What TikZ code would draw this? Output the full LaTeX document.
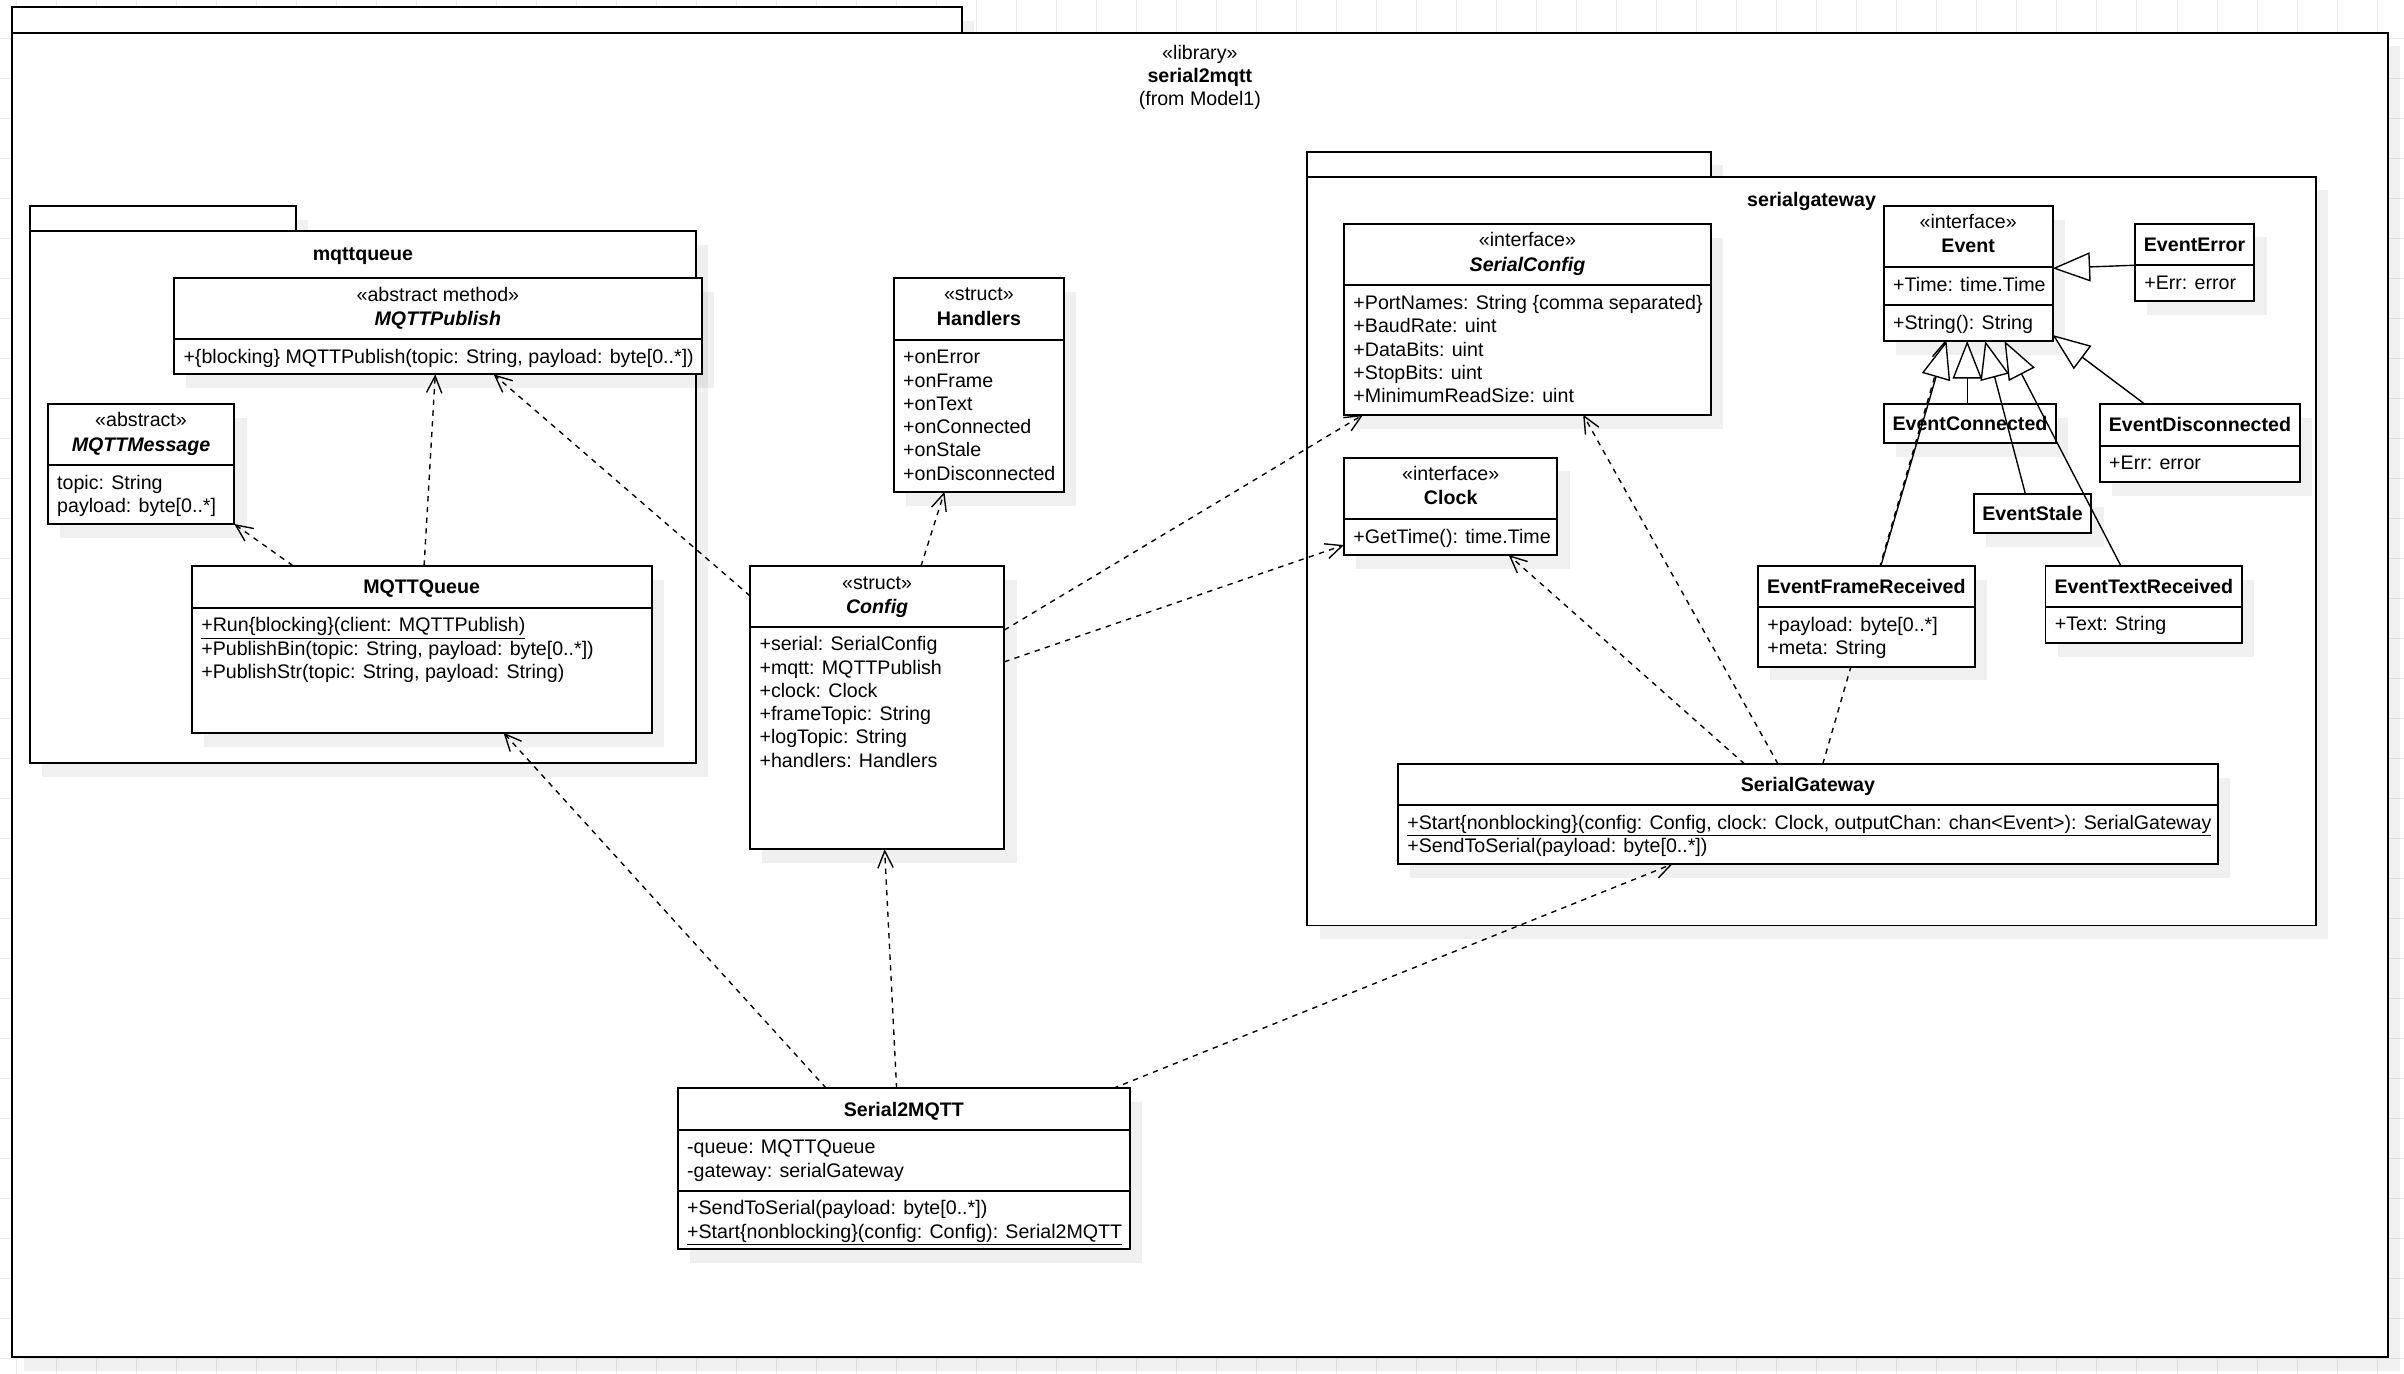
\documentclass[tikz,border=0pt]{standalone}
\usepackage{fontspec}
\setmainfont{Liberation Sans}
\usetikzlibrary{arrows.meta}
\usetikzlibrary{shadows}
\newcommand{\umlfont}{\fontsize{12.8}{15.2}\selectfont}

\begin{document}
\begin{tikzpicture}[x=1pt, y=-1pt, font=\umlfont,
  box/.style={draw, fill=white, line width=1.2pt, anchor=north west, inner sep=0pt, outer sep=0pt,
    drop shadow={shadow xshift=8pt, shadow yshift=-9pt, fill=black, opacity=.06}},
  sep/.style={line width=1.2pt},
  lbl/.style={anchor=base, inner sep=0pt},
  nm/.style={lbl, font=\umlfont\bfseries},
  ab/.style={lbl, font=\umlfont\bfseries\itshape},
  attr/.style={anchor=base west, inner sep=0pt},
  dep/.style={line width=.9pt, dash pattern=on 3.5pt off 3.5pt, -{Straight Barb[length=11pt, width=10pt]}},
  gen/.style={line width=.9pt, -{Triangle[length=24.5pt, width=19pt, fill=white]}},
  gridline/.style={black!8, line width=.6pt}]

\useasboundingbox (0,0) rectangle (1568,896);
\foreach \x in {10.5,36.6,...,1568} \draw[gridline] (\x,0) -- (\x,896);
\foreach \y in {24.8,50.9,...,896} \draw[gridline] (0,\y) -- (1568,\y);

% packages
\node[box, minimum width=619.8pt, minimum height=16.5pt] (lib-tab) at (7.6,4.8) {};
\node[box, minimum width=1550pt, minimum height=863.6pt] (lib) at (7.6,21.3) {};
\node[lbl] (lib-st) at (782.6,38.6) {«library»};
\node[nm] (lib-nm) at (782.6,53.8) {serial2mqtt};
\node[lbl] (lib-from) at (782.6,69) {(from Model1)};

\node[box, minimum width=173.6pt, minimum height=16.5pt] (mq-tab) at (19.4,134.2) {};
\node[box, minimum width=434.6pt, minimum height=347.2pt] (mq) at (19.4,150.7) {};
\node[nm] (mq-nm) at (236.7,169.8) {mqttqueue};

\node[box, minimum width=263.3pt, minimum height=16.3pt] (sg-tab) at (852.7,98.9) {};
\node[box, minimum width=657.9pt, minimum height=488.5pt] (sg) at (852.7,115.2) {};
\node[nm] (sg-nm) at (1181.6,135) {serialgateway};

% mqttqueue
\node[box, minimum width=344.2pt, minimum height=62.7pt] (pub) at (113.5,181.5) {};
\draw[sep] (113.5,221.1) -- (457.7,221.1);
\node[lbl] (pub-st) at (285.6,196.5) {«abstract method»};
\node[ab] (pub-nm) at (285.6,212.2) {MQTTPublish};
\node[attr] (pub-1) at (119.5,236.9) {+\{blocking\} MQTTPublish(topic: String, payload: byte[0..*])};

\node[box, minimum width=121.7pt, minimum height=78.3pt] (msg) at (31.1,263.5) {};
\draw[sep] (31.1,303.5) -- (152.8,303.5);
\node[lbl] (msg-st) at (92,278.5) {«abstract»};
\node[ab] (msg-nm) at (92,294.2) {MQTTMessage};
\foreach \s [count=\i] in {{topic: String},{payload: byte[0..*]}}
  \node[attr] (msg-\i) at (37.1,{304.1+15.17*\i}) {\s};

\node[box, minimum width=299.9pt, minimum height=108.9pt] (mqq) at (125.1,369) {};
\draw[sep] (125.1,396.3) -- (425,396.3);
\node[nm] (mqq-nm) at (275,387.3) {MQTTQueue};
\foreach \s [count=\i] in {{\underline{+Run\{blocking\}(client: MQTTPublish)}},{+PublishBin(topic: String, payload: byte[0..*])},{+PublishStr(topic: String, payload: String)}}
  \node[attr] (mqq-\i) at (131.1,{396.9+15.17*\i}) {\s};

% structs
\node[box, minimum width=111.1pt, minimum height=139.5pt] (hnd) at (582.9,181.3) {};
\draw[sep] (582.9,221.5) -- (694,221.5);
\node[lbl] (hnd-st) at (638.5,196.3) {«struct»};
\node[nm] (hnd-nm) at (638.5,212) {Handlers};
\foreach \s [count=\i] in {+onError,+onFrame,+onText,+onConnected,+onStale,+onDisconnected}
  \node[attr] (hnd-\i) at (588.9,{222.1+15.17*\i}) {\s};

\node[box, minimum width=165.8pt, minimum height=184.7pt] (cfg) at (489.2,369.3) {};
\draw[sep] (489.2,408.7) -- (655,408.7);
\node[lbl] (cfg-st) at (572.1,384.3) {«struct»};
\node[ab] (cfg-nm) at (572.1,400) {Config};
\foreach \s [count=\i] in {{+serial: SerialConfig},{+mqtt: MQTTPublish},{+clock: Clock},{+frameTopic: String},{+logTopic: String},{+handlers: Handlers}}
  \node[attr] (cfg-\i) at (495.2,{409.3+15.17*\i}) {\s};

\node[box, minimum width=295pt, minimum height=104.9pt] (s2m) at (442,709.9) {};
\draw[sep] (442,736.8) -- (737,736.8);
\draw[sep] (442,776.6) -- (737,776.6);
\node[nm] (s2m-nm) at (589.5,728) {Serial2MQTT};
\foreach \s [count=\i] in {{-queue: MQTTQueue},{-gateway: serialGateway}}
  \node[attr] (s2m-a\i) at (448,{737.4+15.17*\i}) {\s};
\foreach \s [count=\i] in {{+SendToSerial(payload: byte[0..*])},{\underline{+Start\{nonblocking\}(config: Config): Serial2MQTT}}}
  \node[attr] (s2m-m\i) at (448,{777.2+15.17*\i}) {\s};

% serialgateway
\node[box, minimum width=239.4pt, minimum height=124.4pt] (scfg) at (876.6,146.1) {};
\draw[sep] (876.6,186.1) -- (1116,186.1);
\node[lbl] (scfg-st) at (996.3,161.1) {«interface»};
\node[ab] (scfg-nm) at (996.3,176.8) {SerialConfig};
\foreach \s [count=\i] in {{+PortNames: String \{comma separated\}},{+BaudRate: uint},{+DataBits: uint},{+StopBits: uint},{+MinimumReadSize: uint}}
  \node[attr] (scfg-\i) at (882.6,{186.7+15.17*\i}) {\s};

\node[box, minimum width=139.1pt, minimum height=63.5pt] (clk) at (876.6,298.5) {};
\draw[sep] (876.6,338.5) -- (1015.7,338.5);
\node[lbl] (clk-st) at (946.2,313.5) {«interface»};
\node[nm] (clk-nm) at (946.2,329.2) {Clock};
\node[attr] (clk-1) at (882.6,354.3) {+GetTime(): time.Time};

\node[box, minimum width=110.2pt, minimum height=88.2pt] (evt) at (1228.6,134.2) {};
\draw[sep] (1228.6,174.4) -- (1338.8,174.4);
\draw[sep] (1228.6,199.1) -- (1338.8,199.1);
\node[lbl] (evt-st) at (1283.7,149.2) {«interface»};
\node[nm] (evt-nm) at (1283.7,164.9) {Event};
\node[attr] (evt-1) at (1234.6,190.2) {+Time: time.Time};
\node[attr] (evt-2) at (1234.6,214.9) {+String(): String};

\node[box, minimum width=78pt, minimum height=50.4pt] (evr) at (1392.4,145.9) {};
\draw[sep] (1392.4,173) -- (1470.4,173);
\node[nm] (evr-nm) at (1431.4,164.1) {EventError};
\node[attr] (evr-1) at (1398.4,188.8) {+Err: error};

\node[box, minimum width=112.5pt, minimum height=25.7pt] (evc) at (1228.6,263.5) {};
\node[nm] (evc-nm) at (1284.9,281) {EventConnected};

\node[box, minimum width=130.7pt, minimum height=50.7pt] (evd) at (1369.5,263.5) {};
\draw[sep] (1369.5,290.7) -- (1500.2,290.7);
\node[nm] (evd-nm) at (1434.9,281.7) {EventDisconnected};
\node[attr] (evd-1) at (1375.5,306.5) {+Err: error};

\node[box, minimum width=76.6pt, minimum height=25.9pt] (evs) at (1287.4,322) {};
\node[nm] (evs-nm) at (1325.7,339.6) {EventStale};

\node[box, minimum width=128.3pt, minimum height=50.4pt] (ext) at (1334.1,369.2) {};
\draw[sep] (1334.1,395.7) -- (1462.4,395.7);
\node[nm] (ext-nm) at (1398.3,387) {EventTextReceived};
\node[attr] (ext-1) at (1340.1,411.5) {+Text: String};

\node[box, minimum width=534.9pt, minimum height=65.2pt] (sgw) at (911.7,498.3) {};
\draw[sep] (911.7,525) -- (1446.6,525);
\node[nm] (sgw-nm) at (1179.2,516.3) {SerialGateway};
\foreach \s [count=\i] in {{\underline{+Start\{nonblocking\}(config: Config, clock: Clock, outputChan: chan<Event>): SerialGateway}},{+SendToSerial(payload: byte[0..*])}}
  \node[attr] (sgw-\i) at (917.7,{525.6+15.17*\i}) {\s};

% runs behind EventFrameReceived
\draw[dep] ([xshift=277.2pt]sgw.north west) -- ([xshift=40pt]evt.south west);

\node[box, minimum width=141.3pt, minimum height=65.8pt] (evf) at (1146.6,369) {};
\draw[sep] (1146.6,395.9) -- (1287.9,395.9);
\node[nm] (evf-nm) at (1217.3,387) {EventFrameReceived};
\foreach \s [count=\i] in {{+payload: byte[0..*]},{+meta: String}}
  \node[attr] (evf-\i) at (1152.6,{396.5+15.17*\i}) {\s};

% dependencies
\draw[dep] ([xshift=66pt]mqq.north west) -- (msg.south east);
\draw[dep] ([xshift=151.5pt]mqq.north west) -- ([xshift=170.4pt]pub.south west);
\draw[dep] ([yshift=-19.4pt]cfg.north west) -- ([xshift=208.5pt]pub.south west);
\draw[dep] ([xshift=111.5pt]cfg.north west) -- ([xshift=33.1pt]hnd.south west);
\draw[dep] ([yshift=-41.7pt]cfg.north east) -- ([xshift=12.5pt]scfg.south west);
\draw[dep] ([yshift=-62.4pt]cfg.north east) -- ([yshift=6.5pt]clk.south west);
\draw[dep] ([xshift=226.2pt]sgw.north west) -- ([xshift=107.4pt]clk.south west);
\draw[dep] ([xshift=248pt]sgw.north west) -- ([xshift=156pt]scfg.south west);
\draw[dep] ([xshift=97pt]s2m.north west) -- ([xshift=203.3pt]mqq.south west);
\draw[dep] ([xshift=142.8pt]s2m.north west) -- ([xshift=87.8pt]cfg.south west);
\draw[dep] ([xshift=-11pt]s2m.north east) -- ([xshift=179.3pt]sgw.south west);

% generalizations
\draw[gen] ([yshift=-27.1pt]evr.north west) -- ([yshift=-40.8pt]evt.north east);
\draw[gen] ([xshift=29.3pt]evd.north west) -- ([yshift=3.9pt]evt.south east);
\draw[gen] ([xshift=80.2pt]evf.north west) -- ([xshift=41pt]evt.south west);
\draw[gen] ([xshift=54.5pt]evc.north west) -- ([xshift=54.5pt]evt.south west);
\draw[gen] ([xshift=33.6pt]evs.north west) -- ([xshift=66.2pt]evt.south west);
\draw[gen] ([xshift=49.3pt]ext.north west) -- ([xshift=78.8pt]evt.south west);

\end{tikzpicture}
\end{document}
